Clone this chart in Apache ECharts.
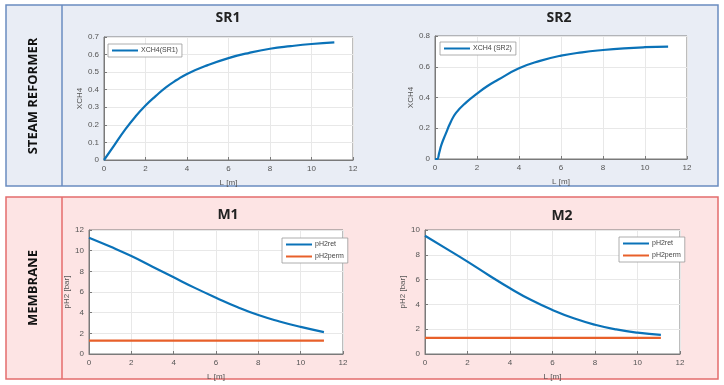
<!DOCTYPE html>
<html>
<head>
<meta charset="utf-8">
<script src="https://cdn.jsdelivr.net/npm/echarts@6/dist/echarts.min.js"></script>
<style>
  html, body { margin: 0; padding: 0; background: #fff; }
  #chart { width: 724px; height: 385px; }
</style>
</head>
<body>
<div id="chart"></div>
<script>
var lenSR1 = [0, 0.5, 1, 1.5, 2, 2.5, 3, 3.5, 4, 5, 6, 7, 8, 9, 10, 11.1]
var xch4SR1 = [0, 0.085, 0.17, 0.245, 0.31, 0.365, 0.415, 0.455, 0.49, 0.54, 0.58, 0.61, 0.633, 0.648, 0.66, 0.669]

var lenSR2 = [0, 0.1, 0.2, 0.3, 0.5, 0.75, 1, 1.5, 2, 2.5, 3, 4, 5, 6, 7, 8, 9, 10, 11.1]
var xch4SR2 = [0, 0, 0.04, 0.09, 0.16, 0.24, 0.3, 0.37, 0.425, 0.475, 0.515, 0.59, 0.638, 0.672, 0.694, 0.709, 0.72, 0.727, 0.731]

var lenM = [0, 1, 2, 3, 4, 5, 6, 7, 8, 9, 10, 11.1]
var retM1 = [11.26, 10.4, 9.48, 8.45, 7.42, 6.4, 5.45, 4.55, 3.77, 3.15, 2.62, 2.12]
var permM1 = [1.29, 1.29, 1.29, 1.29, 1.29, 1.29, 1.29, 1.29, 1.29, 1.29, 1.29, 1.29]
var retM2 = [9.54, 8.5, 7.45, 6.35, 5.3, 4.35, 3.55, 2.88, 2.36, 1.98, 1.72, 1.55]
var permM2 = [1.3, 1.3, 1.3, 1.3, 1.3, 1.3, 1.3, 1.3, 1.3, 1.3, 1.3, 1.3]

var BLUE = '#0a72b8'
var ORANGE = '#e8602a'
var AX = '#7a7a7a'
var FONT = 'Liberation Sans'

function pairs (xs, ys) {
  return xs.map(function (x, i) { return [x, ys[i]] })
}

function xAx (idx) {
  return {
    type: 'value', gridIndex: idx, min: 0, max: 12, interval: 2,
    name: 'L [m]', nameLocation: 'middle', nameGap: 19,
    nameTextStyle: { color: '#555', fontSize: 8, fontFamily: FONT },
    axisLine: { onZero: false, lineStyle: { color: AX } },
    axisTick: { inside: true, length: 3, lineStyle: { color: AX } },
    axisLabel: { color: '#555', fontSize: 8, fontFamily: FONT, margin: 5 },
    splitLine: { lineStyle: { color: '#e8e8e8' } }
  }
}

function yAx (idx, max, interval, name, gap, dec) {
  return {
    type: 'value', gridIndex: idx, min: 0, max: max, interval: interval,
    name: name, nameLocation: 'middle', nameGap: gap,
    nameTextStyle: { color: '#555', fontSize: 8, fontFamily: FONT },
    axisLine: { show: true, lineStyle: { color: AX } },
    axisTick: { show: true, inside: true, length: 3, lineStyle: { color: AX } },
    axisLabel: {
      color: '#555', fontSize: 8, fontFamily: FONT, margin: 5,
      formatter: function (v) { return dec ? (v === 0 ? '0' : v.toFixed(dec)) : String(v) }
    },
    splitLine: { lineStyle: { color: '#e8e8e8' } }
  }
}

function lineSeries (name, idx, data, color) {
  return {
    name: name, type: 'line', xAxisIndex: idx, yAxisIndex: idx,
    data: data, smooth: true, symbol: 'none',
    lineStyle: { color: color, width: 2.2 },
    itemStyle: { color: color }
  }
}

function legendBox (left, top, names) {
  return {
    left: left, top: top, orient: 'vertical',
    data: names, icon: 'rect', itemWidth: 26, itemHeight: 2, itemGap: 5,
    padding: [3, 4, 3, 4], backgroundColor: '#fff',
    borderColor: '#999', borderWidth: 0.8, borderRadius: 0,
    textStyle: { color: '#444', fontSize: 7, fontFamily: FONT, padding: [0, 0, 0, -2] },
    selectedMode: false
  }
}

function panelTitle (text, x, y) {
  return {
    text: text, left: x, top: y, textAlign: 'center',
    textStyle: { fontSize: 14, fontWeight: 'bold', color: '#222', fontFamily: 'Open Sans' }
  }
}

var chart = echarts.init(document.getElementById('chart'))
chart.setOption({
  animation: false,
  backgroundColor: '#fff',
  graphic: [
    { type: 'rect', shape: { x: 6, y: 5, width: 712, height: 181 }, style: { fill: '#e9edf5', stroke: '#6a8cc0', lineWidth: 1.5 }, z: -10 },
    { type: 'line', shape: { x1: 62, y1: 5, x2: 62, y2: 186 }, style: { stroke: '#6a8cc0', lineWidth: 1.5 }, z: -9 },
    { type: 'rect', shape: { x: 6, y: 197, width: 712, height: 182 }, style: { fill: '#fde4e4', stroke: '#e46c6c', lineWidth: 1.5 }, z: -10 },
    { type: 'line', shape: { x1: 62, y1: 197, x2: 62, y2: 379 }, style: { stroke: '#e46c6c', lineWidth: 1.5 }, z: -9 },
    { type: 'text', x: 33, y: 96, rotation: Math.PI / 2, style: { text: 'STEAM REFORMER', fill: '#111', font: 'bold 13px "Open Sans"', align: 'center', verticalAlign: 'middle' } },
    { type: 'text', x: 33, y: 288, rotation: Math.PI / 2, style: { text: 'MEMBRANE', fill: '#111', font: 'bold 13px "Open Sans"', align: 'center', verticalAlign: 'middle' } }
  ],
  title: [
    panelTitle('SR1', 223, 6),
    panelTitle('SR2', 554, 6),
    panelTitle('M1', 223, 203),
    panelTitle('M2', 557, 204)
  ],
  legend: [
    legendBox(108, 44, ['XCH4(SR1)']),
    legendBox(440, 42, ['XCH4 (SR2)']),
    legendBox(282, 238, ['pH2ret', 'pH2perm']),
    legendBox(619, 237, ['pH2ret', 'pH2perm'])
  ],
  grid: [
    { left: 104, top: 37, width: 249, height: 123, show: true, backgroundColor: '#fff', borderColor: AX, borderWidth: 1 },
    { left: 435, top: 36, width: 252, height: 123, show: true, backgroundColor: '#fff', borderColor: AX, borderWidth: 1 },
    { left: 89, top: 230, width: 254, height: 124, show: true, backgroundColor: '#fff', borderColor: AX, borderWidth: 1 },
    { left: 425, top: 230, width: 255, height: 124, show: true, backgroundColor: '#fff', borderColor: AX, borderWidth: 1 }
  ],
  xAxis: [xAx(0), xAx(1), xAx(2), xAx(3)],
  yAxis: [
    yAx(0, 0.7, 0.1, 'XCH4', 19, 1),
    yAx(1, 0.8, 0.2, 'XCH4', 20, 1),
    yAx(2, 12, 2, 'pH2 [bar]', 15, 0),
    yAx(3, 10, 2, 'pH2 [bar]', 13, 0)
  ],
  series: [
    lineSeries('XCH4(SR1)', 0, pairs(lenSR1, xch4SR1), BLUE),
    lineSeries('XCH4 (SR2)', 1, pairs(lenSR2, xch4SR2), BLUE),
    lineSeries('pH2ret', 2, pairs(lenM, retM1), BLUE),
    lineSeries('pH2perm', 2, pairs(lenM, permM1), ORANGE),
    lineSeries('pH2ret', 3, pairs(lenM, retM2), BLUE),
    lineSeries('pH2perm', 3, pairs(lenM, permM2), ORANGE)
  ]
})
</script>
</body>
</html>
